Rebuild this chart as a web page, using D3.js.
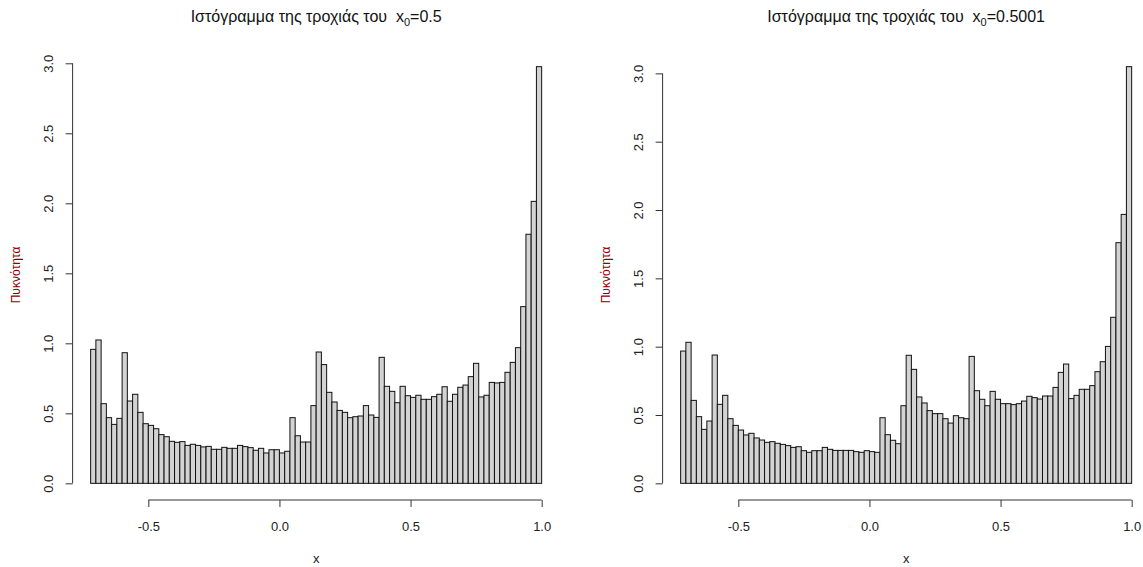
<!DOCTYPE html>
<html>
<head>
<meta charset="utf-8">
<script src="https://cdn.jsdelivr.net/npm/d3@7"></script>
<style>
  body { margin: 0; background: #fff; }
  text { font-family: "Liberation Sans", Arial, sans-serif; }
</style>
</head>
<body>
<div id="chart-area"></div>
<script>
// histogram densities, bins of width 0.02 from -0.72 to 1.0
const BIN_START = -0.72;
const BIN_WIDTH = 0.02;

const densityA = [
  0.957, 1.024, 0.569, 0.469, 0.421, 0.464, 0.933, 0.588, 0.636, 0.507,
  0.426, 0.414, 0.390, 0.348, 0.333, 0.300, 0.293, 0.298, 0.271, 0.279,
  0.271, 0.260, 0.264, 0.243, 0.243, 0.257, 0.250, 0.250, 0.271, 0.262,
  0.255, 0.236, 0.250, 0.217, 0.240, 0.240, 0.217, 0.229, 0.469, 0.340,
  0.295, 0.295, 0.555, 0.938, 0.848, 0.650, 0.581, 0.521, 0.507, 0.469,
  0.476, 0.481, 0.555, 0.488, 0.471, 0.900, 0.693, 0.657, 0.576, 0.693,
  0.626, 0.614, 0.629, 0.600, 0.600, 0.619, 0.636, 0.690, 0.586, 0.636,
  0.686, 0.702, 0.762, 0.857, 0.617, 0.629, 0.721, 0.717, 0.721, 0.793,
  0.864, 0.969, 1.262, 1.779, 2.014, 2.976
];

const densityB = [
  0.968, 1.032, 0.607, 0.488, 0.395, 0.456, 0.939, 0.578, 0.644, 0.473,
  0.424, 0.390, 0.354, 0.366, 0.332, 0.317, 0.300, 0.305, 0.293, 0.285,
  0.276, 0.263, 0.268, 0.239, 0.227, 0.239, 0.239, 0.263, 0.249, 0.241,
  0.241, 0.241, 0.241, 0.232, 0.227, 0.239, 0.232, 0.227, 0.480, 0.356,
  0.315, 0.290, 0.568, 0.937, 0.834, 0.632, 0.588, 0.532, 0.510, 0.510,
  0.473, 0.441, 0.495, 0.480, 0.473, 0.929, 0.678, 0.615, 0.568, 0.673,
  0.615, 0.583, 0.583, 0.576, 0.583, 0.602, 0.637, 0.627, 0.617, 0.639,
  0.639, 0.702, 0.812, 0.873, 0.620, 0.644, 0.688, 0.688, 0.715, 0.817,
  0.890, 1.002, 1.215, 1.761, 1.968, 3.049
];

const xTicks = [-0.5, 0.0, 0.5, 1.0];
const yTicks = [0, 0.5, 1, 1.5, 2, 2.5, 3];
const startValues = ["0.5", "0.5001"];

const W = 1143, H = 567;
const PLOT = { LEFT: 72.6, RIGHT: 559.7, TOP: 50, BOTTOM: 500 };
const PANEL_SHIFT = 590;

const svg = d3.select("#chart-area").append("svg")
  .attr("width", W)
  .attr("height", H)

svg.append("rect").attr("width", W).attr("height", H).attr("fill", "#fff")

function drawPanel(values, x0label, offset) {
  const g = svg.append("g")
    .attr("transform", `translate(${offset}, 0)`)

  const xMin = BIN_START, xMax = BIN_START + values.length * BIN_WIDTH;
  const xPad = (xMax - xMin) * 0.04;
  const x = d3.scaleLinear()
    .domain([xMin - xPad, xMax + xPad])
    .range([PLOT.LEFT, PLOT.RIGHT])

  const yMax = d3.max(values);
  const y = d3.scaleLinear()
    .domain([-yMax * 0.04, yMax * 1.04])
    .range([PLOT.BOTTOM, PLOT.TOP])

  const bins = values.map((v, i) => ({
    x0: BIN_START + i * BIN_WIDTH,
    x1: BIN_START + (i + 1) * BIN_WIDTH,
    d: v
  }));

  // bars
  g.selectAll("rect.bar")
    .data(bins)
    .enter().append("rect")
    .attr("class", "bar")
    .attr("x", d => x(d.x0))
    .attr("y", d => y(d.d))
    .attr("width", d => x(d.x1) - x(d.x0))
    .attr("height", d => y(0) - y(d.d))
    .attr("fill", "#d3d3d3")
    .attr("stroke", "#111")
    .attr("stroke-width", 1)

  // x axis (R style: line only between outer ticks)
  const xAxisCall = d3.axisBottom(x)
    .tickValues(xTicks)
    .tickFormat(d3.format(".1f"))
    .tickSizeOuter(0)
    .tickSize(7)

  const xg = g.append("g")
    .attr("transform", `translate(0, ${PLOT.BOTTOM})`)
    .call(xAxisCall)
  xg.select(".domain").remove()
  xg.append("line")
    .attr("x1", x(xTicks[0])).attr("x2", x(xTicks[xTicks.length - 1]))
    .attr("stroke", "#333")
  xg.selectAll(".tick line").attr("stroke", "#333")
  xg.selectAll(".tick text")
    .text(d => d3.format(".1f")(d).replace("−", "-"))
    .attr("y", 31).attr("dy", 0)
    .attr("fill", "#222")
    .style("font-size", "13px")

  // y axis
  const yAxisCall = d3.axisLeft(y)
    .tickValues(yTicks)
    .tickFormat(d3.format(".1f"))
    .tickSizeOuter(0)
    .tickSize(7)

  const yg = g.append("g")
    .attr("transform", `translate(${PLOT.LEFT}, 0)`)
    .call(yAxisCall)
  yg.select(".domain").remove()
  yg.append("line")
    .attr("y1", y(yTicks[0])).attr("y2", y(yTicks[yTicks.length - 1]))
    .attr("stroke", "#333")
  yg.selectAll(".tick line").attr("stroke", "#333")
  yg.selectAll(".tick text")
    .attr("transform", "rotate(-90)")
    .attr("x", 0).attr("y", -20).attr("dy", 0)
    .attr("text-anchor", "middle")
    .attr("fill", "#222")
    .style("font-size", "13px")

  // labels
  g.append("text")
    .attr("x", (PLOT.LEFT + PLOT.RIGHT) / 2)
    .attr("y", 563)
    .attr("text-anchor", "middle")
    .attr("fill", "#222")
    .style("font-size", "13px")
    .text("x")

  g.append("text")
    .attr("transform", "rotate(-90)")
    .attr("x", -(PLOT.TOP + PLOT.BOTTOM) / 2)
    .attr("y", 20)
    .attr("text-anchor", "middle")
    .attr("fill", "#8b0000")
    .style("font-size", "12px")
    .text("Πυκνότητα")

  const title = g.append("text")
    .attr("x", (PLOT.LEFT + PLOT.RIGHT) / 2)
    .attr("y", 22)
    .attr("text-anchor", "middle")
    .attr("fill", "#111")
    .style("font-size", "16px")
  title.append("tspan").text("Ιστόγραμμα της τροχιάς του\u00a0\u00a0x")
  title.append("tspan").attr("dy", 4).style("font-size", "11px").text("0")
  title.append("tspan").attr("dy", -4).text("=" + x0label)
}

drawPanel(densityA, startValues[0], 0);
drawPanel(densityB, startValues[1], PANEL_SHIFT);
</script>
</body>
</html>
